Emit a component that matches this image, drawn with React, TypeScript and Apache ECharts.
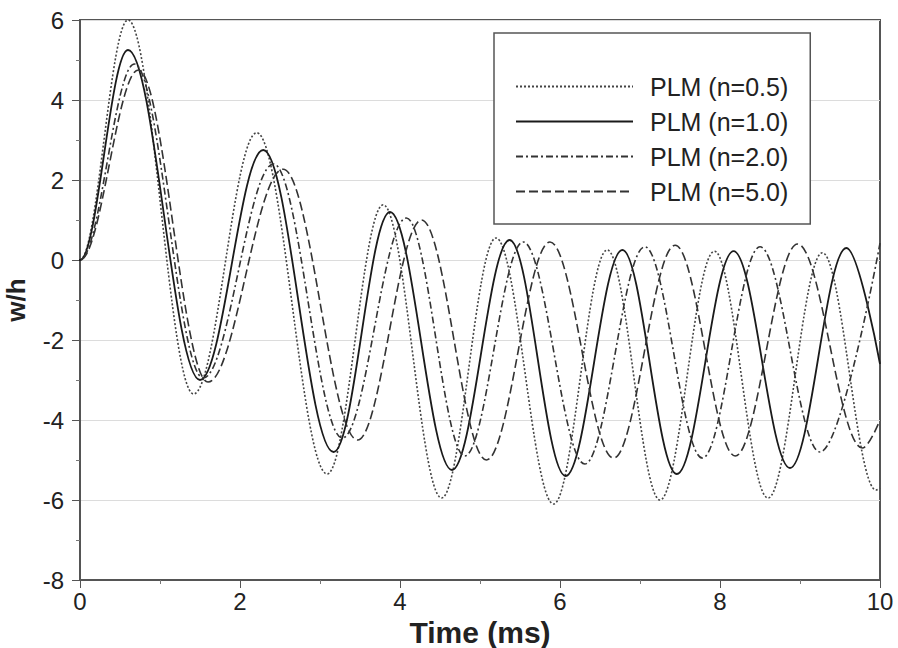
import React, { useEffect, useRef } from "react";
import * as echarts from "echarts";

// Extrema (time in ms, w/h) for each curve; at rest (0) before t = 0
const n05: [number, number][] = [
  [-0.3, 0], [0, 0], [0.6, 6.0], [1.42, -3.35], [2.21, 3.18], [3.09, -5.35], [3.79, 1.38],
  [4.52, -5.95], [5.2, 0.55], [5.92, -6.1], [6.59, 0.25], [7.25, -6.0],
  [7.93, 0.22], [8.6, -5.95], [9.28, 0.18], [9.95, -5.75], [10, -5.7],
];
const n10: [number, number][] = [
  [-0.3, 0], [0, 0], [0.6, 5.25], [1.5, -3.0], [2.29, 2.75], [3.17, -4.8], [3.875, 1.2],
  [4.65, -5.25], [5.37, 0.5], [6.07, -5.4], [6.78, 0.25], [7.46, -5.35],
  [8.17, 0.22], [8.875, -5.2], [9.58, 0.3], [10, -2.6],
];
const n20: [number, number][] = [
  [-0.3, 0], [0, 0], [0.68, 4.9], [1.54, -2.95], [2.42, 2.4], [3.28, -4.45], [4.08, 1.05],
  [4.81, -4.9], [5.54, 0.45], [6.31, -5.1], [7.06, 0.33], [7.78, -4.95],
  [8.5, 0.33], [9.25, -4.8], [10, 0.42],
];
const n50: [number, number][] = [
  [-0.3, 0], [0, 0], [0.73, 4.75], [1.6, -3.05], [2.54, 2.27], [3.47, -4.5], [4.27, 1.0],
  [5.08, -5.0], [5.875, 0.45], [6.67, -4.95], [7.44, 0.37], [8.19, -4.9],
  [8.97, 0.4], [9.78, -4.7], [10, -4.0],
];
const seriesNames = ["PLM (n=0.5)", "PLM (n=1.0)", "PLM (n=2.0)", "PLM (n=5.0)"];

const FONT = "Liberation Sans, Arial, sans-serif";

export default function App() {
  const ref = useRef<HTMLDivElement>(null);
  useEffect(() => {
    if (!ref.current) return;
    const chart = echarts.init(ref.current, null, { renderer: "svg" });
    const mk = (name: string, data: [number, number][], color: string, width: number, type: any) => ({
      name,
      type: "line",
      data,
      smooth: 0.36,
      smoothMonotone: "x",
      symbol: "none",
      clip: true,
      lineStyle: { color, width, type },
      itemStyle: { color },
    });
    chart.setOption({
      animation: false,
      backgroundColor: "#fff",
      textStyle: { fontFamily: FONT },
      grid: {
        left: 80, right: 18, top: 20, bottom: 68,
        outerBoundsMode: "none",
        containLabel: false,
        show: true, borderColor: "#555", borderWidth: 2, backgroundColor: "transparent",
      },
      legend: {
        orient: "vertical",
        left: 494,
        top: 33,
        padding: [41, 22, 20, 21],
        itemWidth: 117,
        itemHeight: 14,
        itemGap: 10,
        borderColor: "#555",
        borderWidth: 1.5,
        backgroundColor: "#fff",
        itemStyle: { opacity: 0 },
        textStyle: { fontFamily: FONT, fontSize: 25, color: "#222", lineHeight: 25, padding: [0, 0, 0, 12] },
        data: seriesNames,
      },
      xAxis: {
        type: "value",
        min: 0, max: 10, interval: 2,
        name: "Time (ms)",
        nameLocation: "middle",
        nameGap: 30,
        nameTextStyle: { fontFamily: FONT, fontSize: 30, fontWeight: "bold", color: "#222" },
        axisLine: { show: true, onZero: false, lineStyle: { color: "#555", width: 2 } },
        axisTick: { show: true, inside: false, length: 8, lineStyle: { color: "#555", width: 1 } },
        minorTick: { show: true, splitNumber: 2, length: 4, lineStyle: { color: "#777" } },
        axisLabel: { fontFamily: FONT, fontSize: 24, color: "#222", margin: 9 },
        splitLine: { show: false },
      },
      yAxis: {
        type: "value",
        min: -8, max: 6, interval: 2,
        name: "w/h",
        nameLocation: "middle",
        nameGap: 51,
        nameTextStyle: { fontFamily: FONT, fontSize: 26, fontWeight: "bold", color: "#222" },
        axisLine: { show: true, onZero: false, lineStyle: { color: "#555", width: 2 } },
        axisTick: { show: true, inside: false, length: 8, lineStyle: { color: "#555", width: 1 } },
        minorTick: { show: true, splitNumber: 2, length: 4, lineStyle: { color: "#777" } },
        axisLabel: { fontFamily: FONT, fontSize: 24, color: "#222", margin: 16 },
        splitLine: { show: true, lineStyle: { color: "#dcdcdc", width: 1 } },
      },
      series: [
        mk(seriesNames[0], n05, "#444", 1.6, [2, 2]),
        mk(seriesNames[1], n10, "#1a1a1a", 1.8, "solid"),
        mk(seriesNames[2], n20, "#333", 1.6, [7, 3, 2, 3]),
        mk(seriesNames[3], n50, "#333", 1.6, [9, 4]),
      ],
    });
    return () => chart.dispose();
  }, []);
  return <div ref={ref} style={{ position: "fixed", left: 0, top: 0, width: 898, height: 648 }} />;
}
